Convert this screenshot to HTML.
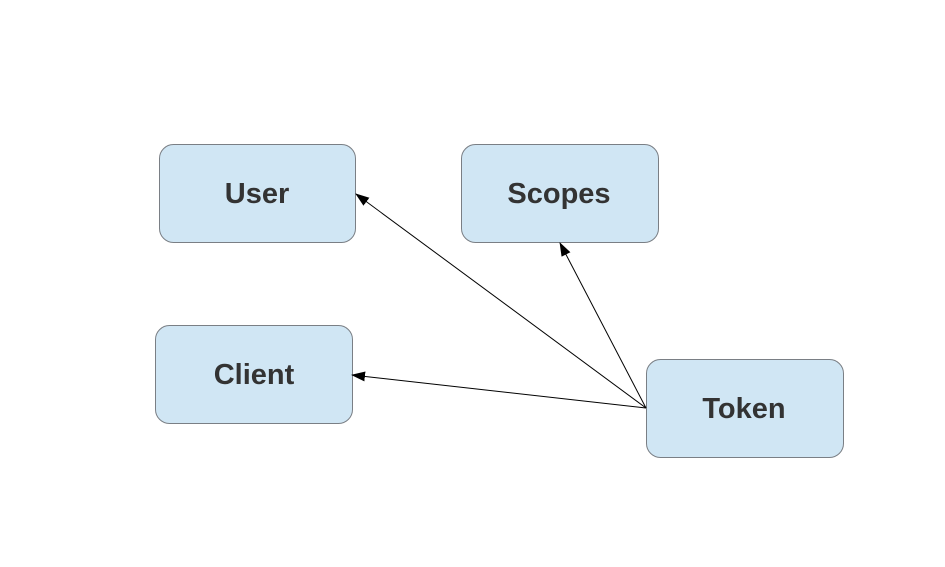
<!DOCTYPE html>
<html><head><style>
html,body{margin:0;padding:0;background:#fff;}
svg{display:block;}
</style></head><body>
<svg width="945" height="567" viewBox="0 0 945 567" xmlns="http://www.w3.org/2000/svg">
<defs><marker id="a" markerWidth="14" markerHeight="10" refX="13" refY="5" orient="auto" markerUnits="userSpaceOnUse"><path d="M0,0 L14,5 L0,10 z" fill="#000"/></marker></defs>
<g fill="#d0e6f4" stroke="#7a7f85" stroke-width="1">
<rect x="159.5" y="144.5" width="196" height="98" rx="14"/>
<rect x="461.5" y="144.5" width="197" height="98" rx="14"/>
<rect x="155.5" y="325.5" width="197" height="98" rx="14"/>
<rect x="646.5" y="359.5" width="197" height="98" rx="14"/>
</g>
<g stroke="#000" stroke-width="1" fill="none">
<line x1="646" y1="408" x2="356" y2="194" marker-end="url(#a)"/>
<line x1="646" y1="408" x2="560" y2="243" marker-end="url(#a)"/>
<line x1="646" y1="408" x2="352" y2="375" marker-end="url(#a)"/>
</g>
<g font-family="Liberation Sans, sans-serif" font-weight="bold" font-size="29" fill="#333" text-anchor="middle">
<text x="257" y="203">User</text>
<text x="559" y="203">Scopes</text>
<text x="254" y="384">Client</text>
<text x="744" y="418">Token</text>
</g>
</svg>
</body></html>
